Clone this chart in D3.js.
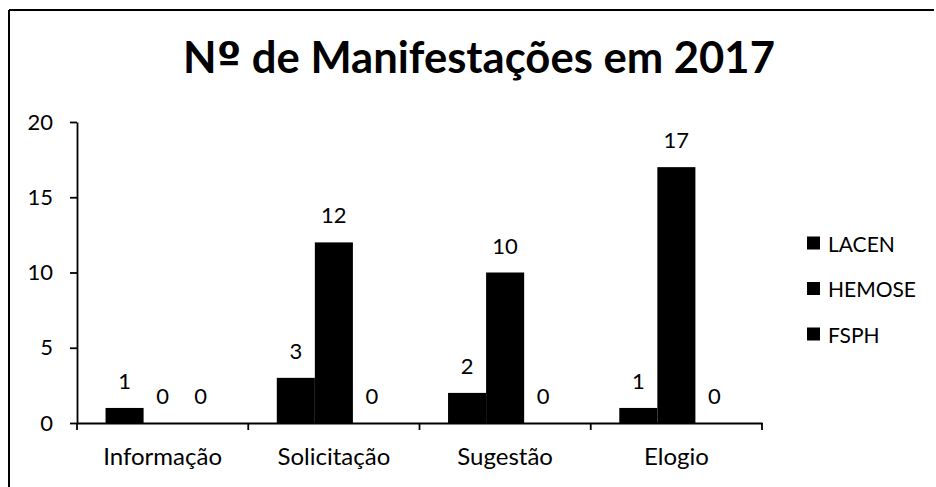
<!DOCTYPE html>
<html><head><meta charset="utf-8">
<script src="https://cdn.jsdelivr.net/npm/d3@7"></script>
<style>body{margin:0;background:#fff} text{font-family:Lato,"Open Sans",sans-serif;fill:#000}</style>
</head><body><svg id="c" width="936" height="487"></svg>
<script>
const title = "Nº de Manifestações em 2017";
const categories = ["Informação", "Solicitação", "Sugestão", "Elogio"];
const seriesNames = ["LACEN", "HEMOSE", "FSPH"];
const lacen = [1, 3, 2, 1];
const hemose = [0, 12, 10, 17];
const fsph = [0, 0, 0, 0];
const yTicks = [0, 5, 10, 15, 20];

const seriesValues = [lacen, hemose, fsph];
const svg = d3.select("#c");

// frame (scanned page border)
svg.append("line").attr("x1", 9).attr("y1", 10).attr("x2", 9).attr("y2", 487).attr("stroke", "#000").attr("stroke-width", 2);
svg.append("line").attr("x1", 9).attr("y1", 10).attr("x2", 934).attr("y2", 10).attr("stroke", "#000").attr("stroke-width", 2);

const x = d3.scaleBand().domain(categories).range([77, 762]).padding(0);
const x1 = d3.scaleBand().domain(seriesNames).range([0, x.bandwidth()]).paddingInner(0).paddingOuter(0.75);
const y = d3.scaleLinear().domain([0, 20]).range([423, 122]);

// title ("º" drawn in a face whose ordinal indicator is underlined, as in the original)
const t = svg.append("text").attr("x", 479).attr("y", 73).attr("text-anchor", "middle")
  .attr("font-weight", "bold").attr("font-size", 42);
t.append("tspan").text(title.slice(0, 1));
t.append("tspan").attr("font-family", "'DejaVu Sans', sans-serif").text(title.slice(1, 2));
t.append("tspan").text(title.slice(2));
const tw = t.node().getComputedTextLength();
t.attr("font-size", 42 * 592 / tw);

// bars
const g = svg.append("g");
seriesNames.forEach((s, si) => {
  categories.forEach((c, ci) => {
    const v = seriesValues[si][ci];
    g.append("rect").attr("x", x(c) + x1(s)).attr("width", x1.bandwidth())
      .attr("y", y(v)).attr("height", y(0) - y(v)).attr("fill", "#000");
    g.append("text").attr("x", x(c) + x1(s) + x1.bandwidth() / 2).attr("y", y(v) - 19)
      .attr("text-anchor", "middle").attr("font-size", 22).text(v);
  });
});

// y axis
const ya = svg.append("g").attr("transform", "translate(77,0)")
  .call(d3.axisLeft(y).tickValues(yTicks).tickSize(7).tickSizeOuter(0).tickPadding(17));
ya.selectAll("path,line").attr("stroke", "#000").attr("stroke-width", 1.8);
ya.selectAll("text").attr("font-size", 22).attr("font-family", "Lato, sans-serif").attr("fill", "#000");

// x axis: labels at band centres, ticks at band boundaries
const xa = svg.append("g").attr("transform", "translate(0,423)")
  .call(d3.axisBottom(x).tickSize(0).tickSizeOuter(0));
xa.select("path").attr("stroke", "#000").attr("stroke-width", 1.8);
xa.selectAll("text").attr("font-size", 24).attr("font-family", "Lato, sans-serif").attr("fill", "#000")
  .attr("y", 42).attr("dy", 0);
const bounds = categories.map(c => x(c)).concat([x.range()[1]]);
xa.selectAll(".bt").data(bounds).enter().append("line").attr("class", "bt")
  .attr("x1", d => d).attr("x2", d => d).attr("y1", 0).attr("y2", 7)
  .attr("stroke", "#000").attr("stroke-width", 1.8);

// legend
const lg = svg.append("g");
const legendY = d3.scalePoint().domain(seriesNames).range([243, 334]);
seriesNames.forEach(s => {
  lg.append("rect").attr("x", 807).attr("y", legendY(s) - 6.5).attr("width", 13).attr("height", 13).attr("fill", "#000");
  lg.append("text").attr("x", 828).attr("y", legendY(s)).attr("dominant-baseline", "central")
    .attr("font-size", 21).text(s);
});
</script></body></html>
